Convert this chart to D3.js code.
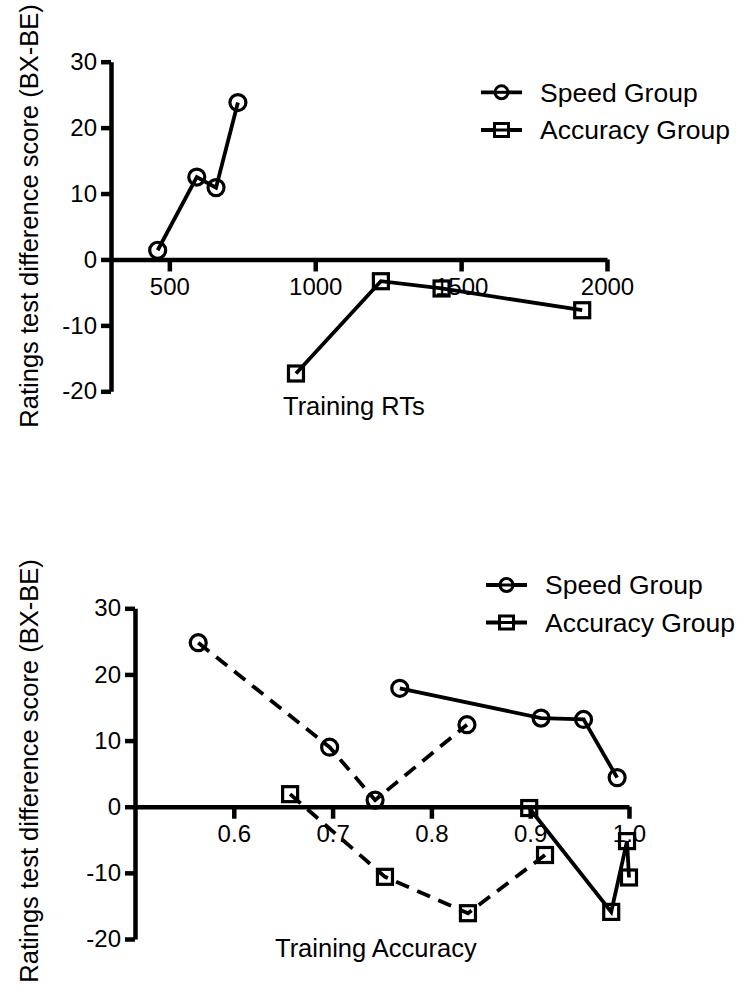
<!DOCTYPE html>
<html><head><meta charset="utf-8">
<script src="https://cdn.jsdelivr.net/npm/d3@7"></script>
<style>
body{margin:0;background:#fff;}
text{font-family:"Liberation Sans",Arial,Helvetica,sans-serif;fill:#000;}
</style></head>
<body>
<svg id="c" width="742" height="1000"></svg>
<script>
// ---- data ----
const yTicks = [-20, -10, 0, 10, 20, 30];
const rtTicks = [500, 1000, 1500, 2000];
const accTicks = [0.6, 0.7, 0.8, 0.9, 1.0];
const accTickLabels = ["0.6", "0.7", "0.8", "0.9", "1.0"];
const seriesNames = ["Speed Group", "Accuracy Group"];
const yTitle = "Ratings test difference score (BX-BE)";

const topSpeedRT = [460, 594, 660, 735];
const topSpeedScore = [1.4, 12.5, 10.9, 23.8];
const topAccRT = [934, 1225, 1433, 1915];
const topAccScore = [-17.3, -3.3, -4.4, -7.7];

const botSpeedDashedAcc = [0.564, 0.697, 0.743, 0.836];
const botSpeedDashedScore = [24.8, 9.0, 1.0, 12.4];
const botSpeedSolidAcc = [0.768, 0.911, 0.954, 0.988];
const botSpeedSolidScore = [17.9, 13.4, 13.2, 4.4];
const botAccDashedAcc = [0.657, 0.753, 0.837, 0.915];
const botAccDashedScore = [1.9, -10.6, -16.1, -7.3];
const botAccSolidAcc = [0.899, 0.982, 0.998, 1.0];
const botAccSolidScore = [-0.2, -15.9, -5.2, -10.7];

const svg = d3.select("#c");

function panel(o) {
  const g = svg.append("g");
  const x = d3.scaleLinear().domain(o.xDomain).range(o.xRange);
  const y = d3.scaleLinear().domain([-20, 30]).range(o.yRange);

  // y axis
  const ya = g.append("g").attr("transform", `translate(${o.xRange[0]},0)`)
    .call(d3.axisLeft(y).tickValues(yTicks).tickSize(10).tickSizeOuter(0).tickPadding(4)
      .tickFormat(d => String(d)));
  // x axis
  const xa = g.append("g").attr("transform", `translate(0,${y(0)})`)
    .call(d3.axisBottom(x).tickValues(o.xTicks).tickSize(12).tickSizeOuter(0).tickPadding(6)
      .tickFormat((d, i) => o.xLabels ? o.xLabels[i] : String(d)));
  [ya, xa].forEach(a => {
    a.select(".domain").style("stroke", "#000").style("stroke-width", "4.5px");
    a.selectAll(".tick line").style("stroke", "#000").style("stroke-width", "4.5px");
    a.selectAll(".tick text").attr("font-size", 24).attr("fill", "#000")
      .style("font-family", '"Liberation Sans",Arial,sans-serif');
  });
  xa.selectAll(".tick text").attr("dy", "0.72em");

  // titles
  g.append("text").attr("transform", `translate(${o.yTitleX},${o.yTitleY}) rotate(-90)`)
    .attr("text-anchor", "middle").attr("font-size", 25.5).text(yTitle);
  g.append("text").attr("x", o.xTitleX).attr("y", o.xTitleY)
    .attr("font-size", 25.5).text(o.xTitle);

  const line = d3.line().x(d => x(d[0])).y(d => y(d[1]));
  o.series.forEach(s => {
    const pts = s.xs.map((v, i) => [v, s.ys[i]]);
    g.append("path").attr("d", line(pts)).attr("fill", "none")
      .attr("stroke", "#000").attr("stroke-width", 3.8)
      .attr("stroke-dasharray", s.dashed ? "14,9" : null);
    pts.forEach(p => {
      if (s.shape === "circle") {
        g.append("circle").attr("cx", x(p[0])).attr("cy", y(p[1])).attr("r", 8)
          .attr("fill", "none").attr("stroke", "#000").attr("stroke-width", 3.2);
      } else {
        g.append("rect").attr("x", x(p[0]) - 7.5).attr("y", y(p[1]) - 7.5)
          .attr("width", 15).attr("height", 15)
          .attr("fill", "none").attr("stroke", "#000").attr("stroke-width", 3.2);
      }
    });
  });

  // legend
  seriesNames.forEach((name, i) => {
    const cy = o.legY[i];
    g.append("line").attr("x1", o.legX).attr("x2", o.legX + 41).attr("y1", cy).attr("y2", cy)
      .attr("stroke", "#000").attr("stroke-width", 3.8);
    const mx = o.legX + 20.5;
    if (i === 0) {
      g.append("circle").attr("cx", mx).attr("cy", cy).attr("r", 6.5)
        .attr("fill", "#fff").attr("stroke", "#000").attr("stroke-width", 3);
      g.append("line").attr("x1", mx - 6.5).attr("x2", mx + 6.5).attr("y1", cy).attr("y2", cy)
        .attr("stroke", "#000").attr("stroke-width", 3);
    } else {
      g.append("rect").attr("x", mx - 7).attr("y", cy - 6.5).attr("width", 14).attr("height", 13)
        .attr("fill", "#fff").attr("stroke", "#000").attr("stroke-width", 3);
      g.append("line").attr("x1", mx - 7).attr("x2", mx + 7).attr("y1", cy).attr("y2", cy)
        .attr("stroke", "#000").attr("stroke-width", 3);
    }
    g.append("text").attr("x", o.legTextX).attr("y", cy + 9.3)
      .attr("font-size", 26.5).text(name);
  });
}

panel({
  xDomain: [300, 2000], xRange: [111, 607], yRange: [391.3, 61.7],
  xTicks: rtTicks, xTitle: "Training RTs", xTitleX: 283, xTitleY: 415,
  yTitleX: 38, yTitleY: 216,
  legX: 481, legTextX: 540, legY: [92.3, 130],
  series: [
    {xs: topSpeedRT, ys: topSpeedScore, shape: "circle", dashed: false},
    {xs: topAccRT, ys: topAccScore, shape: "square", dashed: false}
  ]
});

panel({
  xDomain: [0.5, 1.0], xRange: [135, 629], yRange: [939, 608.3],
  xTicks: accTicks, xLabels: accTickLabels, xTitle: "Training Accuracy", xTitleX: 275, xTitleY: 957,
  yTitleX: 38, yTitleY: 771,
  legX: 486, legTextX: 545, legY: [585, 622.5],
  series: [
    {xs: botSpeedDashedAcc, ys: botSpeedDashedScore, shape: "circle", dashed: true},
    {xs: botSpeedSolidAcc, ys: botSpeedSolidScore, shape: "circle", dashed: false},
    {xs: botAccDashedAcc, ys: botAccDashedScore, shape: "square", dashed: true},
    {xs: botAccSolidAcc, ys: botAccSolidScore, shape: "square", dashed: false}
  ]
});
</script>
</body></html>
